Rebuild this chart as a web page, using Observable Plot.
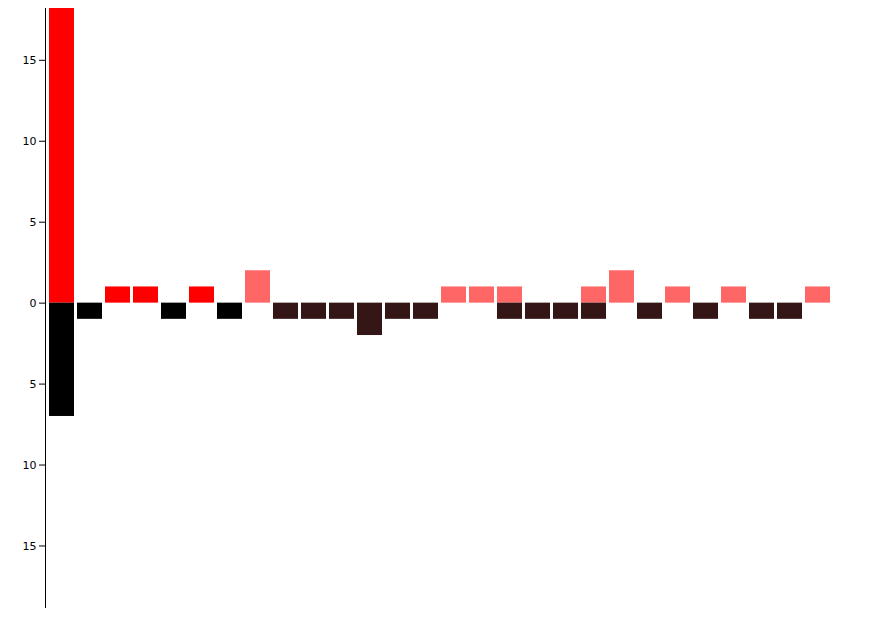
<!DOCTYPE html>
<html>
<head>
<meta charset="utf-8">
<script src="https://cdn.jsdelivr.net/npm/d3@7"></script>
<script src="https://cdn.jsdelivr.net/npm/@observablehq/plot@0.6"></script>
<style>
  body { margin: 0; background: #fff; }
</style>
</head>
<body>
<div id="chart"></div>
<script>
// one column per step, up = red side, down = dark side
const steps = d3.range(1, 29);
const ups =   [18.2, 0, 1, 1, 0, 1, 0, 2, 0, 0, 0, 0, 0, 0, 1, 1, 1, 0, 0, 1, 2, 0, 1, 0, 1, 0, 0, 1];
const downs = [7, 1, 0, 0, 1, 0, 1, 0, 1, 1, 1, 2, 1, 1, 0, 0, 1, 1, 1, 1, 0, 1, 0, 1, 0, 1, 1, 0];
const phase = steps.map(s => s <= 7 ? "early" : "late");

const upColor = {early: "#ff0000", late: "#ff6666"};
const downColor = {early: "#000000", late: "#341616"};

let rows = [];
steps.forEach((s, i) => {
  if (ups[i]) rows.push({step: s, v: ups[i], fill: upColor[phase[i]]});
  if (downs[i]) rows.push({step: s, v: -downs[i], fill: downColor[phase[i]]});
});

const chart = Plot.plot({
  width: 893,
  height: 618,
  marginTop: 8,
  marginBottom: 11,
  marginLeft: 45,
  marginRight: 58,
  style: {fontSize: "11px", fontFamily: "DejaVu Sans, sans-serif"},
  x: {axis: null, domain: steps, paddingInner: 0.107, paddingOuter: 0.143},
  y: {domain: [-18.8, 18.2], ticks: [-15, -10, -5, 0, 5, 10, 15], tickFormat: d => Math.abs(d), label: null},
  marks: [
    Plot.barY(rows, {x: "step", y1: 0, y2: "v", fill: "fill"}),
    Plot.axisY({ticks: [-15, -10, -5, 0, 5, 10, 15], tickFormat: d => Math.abs(d), tickSize: 6, tickPadding: 3, label: null}),
    Plot.frame({anchor: "left", stroke: "#000"})
  ]
});
document.getElementById("chart").appendChild(chart);
</script>
</body>
</html>
